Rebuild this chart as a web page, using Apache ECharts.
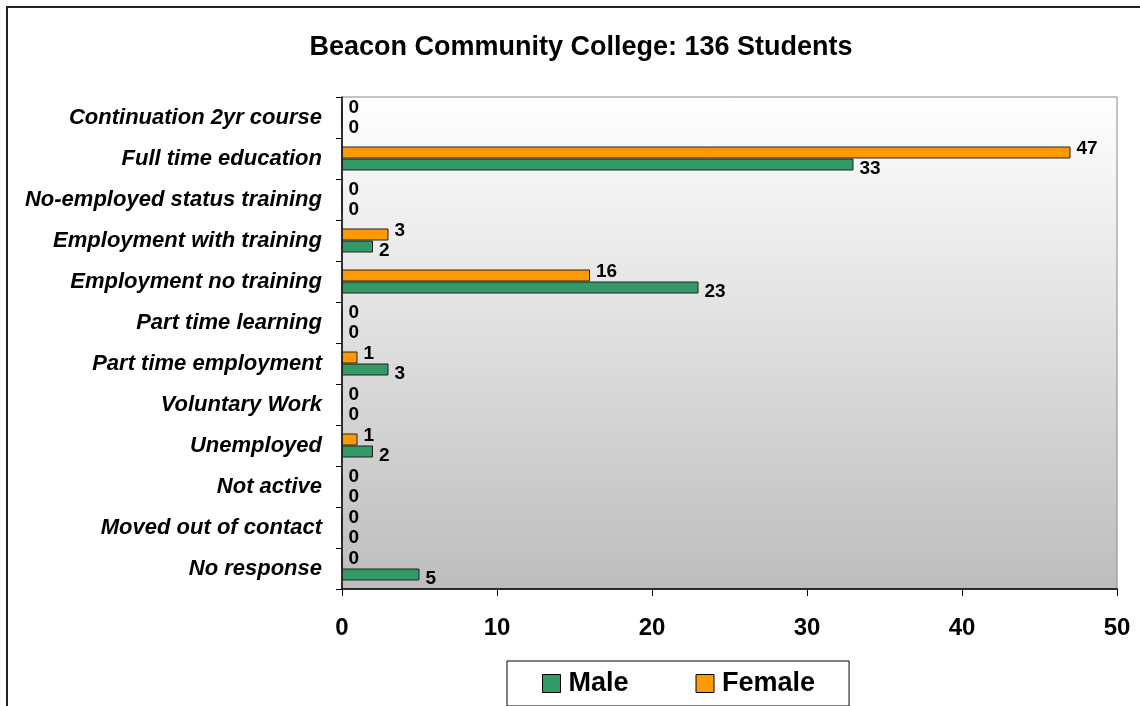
<!DOCTYPE html>
<html>
<head>
<meta charset="utf-8">
<script src="https://cdn.jsdelivr.net/npm/echarts@6/dist/echarts.min.js"></script>
<style>
html,body{margin:0;padding:0;background:#fff;}
#chart{width:1140px;height:706px;}
</style>
</head>
<body>
<div id="chart"></div>
<script>
const titleText = 'Beacon Community College: 136 Students';
const categories = [
  'Continuation 2yr course',
  'Full time education',
  'No-employed status training',
  'Employment with training',
  'Employment no training',
  'Part time learning',
  'Part time employment',
  'Voluntary Work',
  'Unemployed',
  'Not active',
  'Moved out of contact',
  'No response'
];
const maleValues   = [0, 33, 0, 2, 23, 0, 3, 0, 2, 0, 0, 5];
const femaleValues = [0, 47, 0, 3, 16, 0, 1, 0, 1, 0, 0, 0];
const xTicks = [0, 10, 20, 30, 40, 50];

const FONT = '"Liberation Sans", Arial, sans-serif';
const chart = echarts.init(document.getElementById('chart'), null, {renderer: 'canvas'});

const labelBase = {
  show: true,
  position: 'right',
  distance: 6,
  color: '#000',
  fontFamily: FONT,
  fontWeight: 'bold',
  fontSize: 19
};

chart.setOption({
  animation: false,
  backgroundColor: '#fff',
  title: {
    text: titleText,
    left: 576,
    textAlign: 'center',
    top: 29,
    textStyle: {fontFamily: FONT, fontWeight: 'bold', fontSize: 27, color: '#000'}
  },
  graphic: [{
    type: 'rect',
    shape: {x: 7, y: 7, width: 1160, height: 740},
    style: {fill: 'none', stroke: '#222', lineWidth: 2},
    silent: true
  }],
  legend: {
    data: ['Male', 'Female'],
    left: 507,
    top: 661,
    padding: [9, 34, 9, 35],
    itemGap: 67,
    itemWidth: 18,
    itemHeight: 18,
    icon: 'rect',
    itemStyle: {borderColor: '#000', borderWidth: 1},
    borderColor: '#000',
    borderWidth: 1,
    backgroundColor: '#fff',
    textStyle: {fontFamily: FONT, fontWeight: 'bold', fontSize: 27, color: '#000', padding: [0, 0, 0, 3]}
  },
  grid: {
    left: 342, right: 23, top: 97, bottom: 117,
    show: true,
    borderColor: '#888',
    borderWidth: 1,
    backgroundColor: new echarts.graphic.LinearGradient(0, 0, 0, 1, [
      {offset: 0, color: '#ffffff'},
      {offset: 1, color: '#bdbdbd'}
    ])
  },
  xAxis: {
    type: 'value',
    min: xTicks[0],
    max: xTicks[xTicks.length - 1],
    interval: xTicks[1] - xTicks[0],
    axisLine: {show: true, lineStyle: {color: '#000', width: 1.5}},
    axisTick: {show: true, length: 7, lineStyle: {color: '#000'}},
    splitLine: {show: false},
    axisLabel: {margin: 27, fontFamily: FONT, fontWeight: 'bold', fontSize: 24, color: '#000'}
  },
  yAxis: {
    type: 'category',
    data: categories,
    inverse: true,
    axisLine: {show: true, lineStyle: {color: '#000', width: 1.5}},
    axisTick: {show: true, length: 6, lineStyle: {color: '#000'}},
    axisLabel: {margin: 20, fontFamily: FONT, fontWeight: 'bold', fontStyle: 'italic', fontSize: 22, color: '#000'}
  },
  series: [
    {
      name: 'Female',
      type: 'bar',
      data: femaleValues,
      barWidth: 12,
      barGap: '0%',
      itemStyle: {color: '#FF9900', borderColor: '#222', borderWidth: 1},
      label: Object.assign({}, labelBase, {offset: [0, -4]})
    },
    {
      name: 'Male',
      type: 'bar',
      data: maleValues,
      barWidth: 12,
      barGap: '0%',
      itemStyle: {color: '#339966', borderColor: '#222', borderWidth: 1},
      label: Object.assign({}, labelBase, {offset: [0, 4]})
    }
  ]
});
</script>
</body>
</html>
